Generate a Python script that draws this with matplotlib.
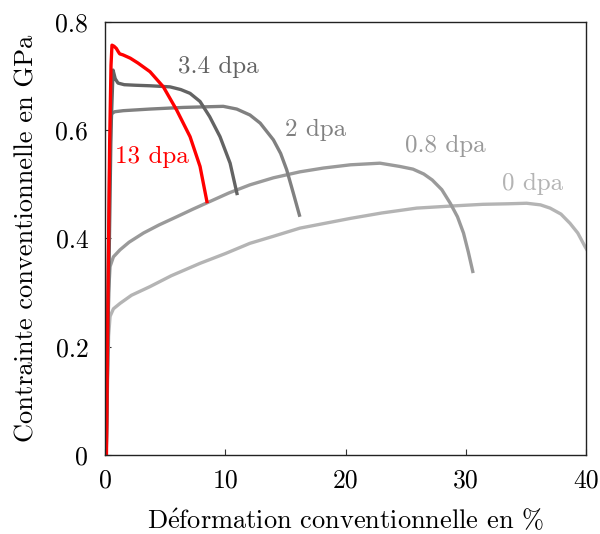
import matplotlib
matplotlib.use("Agg")
import matplotlib.pyplot as plt
from matplotlib.ticker import FuncFormatter

plt.rcParams['font.family'] = ['cmr10', 'DejaVu Serif']
plt.rcParams['mathtext.fontset'] = 'cm'
plt.rcParams['axes.unicode_minus'] = False

################### Data ###################
# strain in %, stress in GPa
strain_0 = [0.1, 0.2, 0.3, 0.42, 0.7, 1.25, 2.2, 3.74, 5.5, 7.9, 10.0, 12.05, 14.0, 16.2,
            18.3, 20.4, 23.0, 25.9, 28.9, 31.4, 33.5, 35.05, 36.2, 37.0, 37.9, 38.65,
            39.3, 39.9, 40.3]
stress_0 = [0.0, 0.12, 0.22, 0.256, 0.27, 0.280, 0.295, 0.311, 0.331, 0.354, 0.372, 0.391,
            0.404, 0.419, 0.428, 0.437, 0.447, 0.456, 0.460, 0.463, 0.464, 0.465, 0.462,
            0.456, 0.445, 0.428, 0.41, 0.385, 0.37]

strain_08 = [0.1, 0.2, 0.3, 0.42, 0.7, 1.25, 2.0, 3.2, 4.5, 5.96, 7.3, 8.7, 10.3, 12.05,
             14.0, 16.2, 18.15, 20.4, 22.86, 24.5, 25.6, 26.5, 27.2, 28.0, 28.7, 29.3,
             29.8, 30.2, 30.6]
stress_08 = [0.0, 0.15, 0.30, 0.348, 0.366, 0.379, 0.393, 0.410, 0.425, 0.440, 0.454,
             0.468, 0.484, 0.499, 0.512, 0.523, 0.530, 0.536, 0.539, 0.533, 0.528, 0.519,
             0.508, 0.49, 0.465, 0.44, 0.41, 0.375, 0.336]

strain_2 = [0.1, 0.25, 0.4, 0.53, 0.8, 1.52, 3.74, 6.5, 9.83, 10.95, 12.05, 12.9, 14.0,
            14.6, 15.1, 15.65, 16.2]
stress_2 = [0.0, 0.3, 0.55, 0.630, 0.634, 0.636, 0.639, 0.642, 0.644, 0.639, 0.628, 0.613,
            0.582, 0.557, 0.527, 0.484, 0.440]

strain_34 = [0.1, 0.3, 0.5, 0.67, 0.85, 1.08, 1.6, 2.5, 3.74, 5.4, 6.3, 7.07, 7.9, 8.7,
             9.56, 10.4, 11.0]
stress_34 = [0.0, 0.3, 0.6, 0.711, 0.695, 0.687, 0.684, 0.683, 0.682, 0.680, 0.675,
             0.668, 0.653, 0.625, 0.588, 0.539, 0.480]

strain_13 = [0.12, 0.2, 0.3, 0.39, 0.5, 0.58, 0.75, 0.94, 1.1, 1.22, 1.5, 2.1, 2.74,
             3.74, 4.85, 5.96, 7.07, 7.9, 8.5]
stress_13 = [0.0, 0.2, 0.4, 0.58, 0.72, 0.757, 0.755, 0.751, 0.745, 0.741, 0.739, 0.733,
             0.724, 0.708, 0.680, 0.637, 0.588, 0.533, 0.465]

labels = ['0 dpa', '0.8 dpa', '2 dpa', '3.4 dpa', '13 dpa']
colors = ['#b4b4b4', '#9a9a9a', '#808080', '#636363', '#ff0000']
label_pos = [(35.5, 0.50), (28.3, 0.571), (17.5, 0.600), (9.4, 0.717), (3.9, 0.55)]

################### Plot ###################
fig = plt.figure(figsize=(6, 5.34), dpi=100)
ax = fig.add_axes([0.175, 0.148, 0.802, 0.811])

curves = [(strain_0, stress_0), (strain_08, stress_08), (strain_2, stress_2),
          (strain_34, stress_34), (strain_13, stress_13)]
for (x, y), c in zip(curves, colors):
    ax.plot(x, y, color=c, lw=2.4, solid_capstyle='butt', solid_joinstyle='round')

for lab, (tx, ty), c in zip(labels, label_pos, colors):
    ax.text(tx, ty, lab, color=c, fontsize=18, ha='center', va='center')

ax.set_xlim(0, 40)
ax.set_ylim(0, 0.8)
ax.set_xticks([0, 10, 20, 30, 40])
ax.set_yticks([0, 0.2, 0.4, 0.6, 0.8])
fmt = FuncFormatter(lambda v, p: f'{v:g}')
ax.xaxis.set_major_formatter(fmt)
ax.yaxis.set_major_formatter(fmt)
ax.tick_params(direction='in', length=4, width=0.8, labelsize=18.5, color='#333333')
ax.tick_params(axis='x', pad=10)
ax.tick_params(axis='y', pad=12)
for s in ax.spines.values():
    s.set_linewidth(1.0)
    s.set_color('#222222')

ax.set_xlabel('D$\\mathrm{\\acute{e}}$formation conventionnelle en %', fontsize=19, labelpad=11)
ax.set_ylabel('Contrainte conventionnelle en GPa', fontsize=19, labelpad=12)

fig.savefig('out.png', dpi=100)
